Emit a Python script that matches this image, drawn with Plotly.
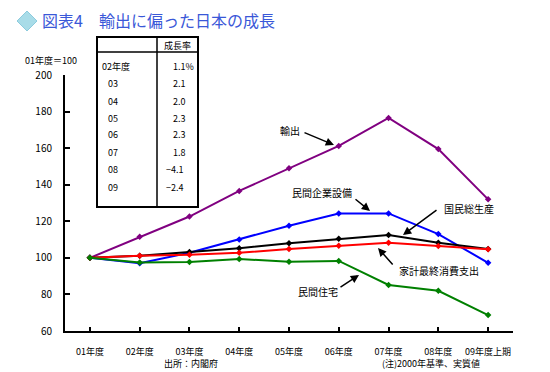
import plotly.graph_objects as go

# ---------------- data ----------------
categories = ["01年度", "02年度", "03年度", "04年度", "05年度",
              "06年度", "07年度", "08年度", "09年度上期"]
exports = [100, 111.5, 122.6, 136.6, 149.0, 161.2, 176.5, 159.5, 132.0]
capex = [100, 97.0, 102.8, 110.1, 117.6, 124.3, 124.3, 113.0, 97.3]
gnp = [100, 101.1, 103.2, 105.3, 108.0, 110.4, 112.5, 108.3, 104.8]
consumption = [100, 101.2, 101.7, 102.8, 104.8, 106.6, 108.3, 106.5, 104.7]
housing = [100, 97.5, 97.7, 99.4, 97.9, 98.3, 85.2, 82.0, 68.7]

series_names = ["輸出", "民間企業設備", "国民総生産", "家計最終消費支出", "民間住宅"]
series_values = [exports, capex, gnp, consumption, housing]
series_colors = ["#800080", "#0000FF", "#000000", "#FF0000", "#008000"]

table_header = "成長率"
table_years = ["02年度", "03", "04", "05", "06", "07", "08", "09"]
table_rates = ["1.1%", "2.1", "2.0", "2.3", "2.3", "1.8", "−4.1", "−2.4"]

y_ticks = [60, 80, 100, 120, 140, 160, 180, 200]

# ---------------- layout geometry ----------------
OFF = 8  # page body margin
W, H = 550 - OFF, 372 - OFF
# plot area in reference (window) pixels
RL, RR, RT, RB = 65, 513, 75, 331
L, R, T, B = RL - OFF, RR - OFF, RT - OFF, RB - OFF
FONT = "Noto Sans CJK JP, Noto Sans, sans-serif"


def px(x):
    # x in window pixels -> paper fraction
    return (x - RL) / (RR - RL)


def py(y):
    return (RB - y) / (RB - RT)


fig = go.Figure()
for name, vals, col in zip(series_names, series_values, series_colors):
    fig.add_trace(go.Scatter(
        x=list(range(len(categories))), y=vals, name=name, mode="lines+markers",
        line=dict(color=col, width=2),
        marker=dict(color=col, size=5, symbol="diamond"),
        showlegend=False, hoverinfo="skip"))

annotations = []
shapes = []

# title icon (diamond) and title text
dcx, dcy, dr = 27, 21, 10
shapes.append(dict(
    type="path", xref="paper", yref="paper",
    path=(f"M {px(dcx - dr)} {py(dcy)} L {px(dcx)} {py(dcy - dr)} "
          f"L {px(dcx + dr)} {py(dcy)} L {px(dcx)} {py(dcy + dr)} Z"),
    fillcolor="#A8DCE8", line=dict(color="#8CCBDD", width=1)))
annotations.append(dict(x=px(40), y=py(20), xref="paper", yref="paper",
                        text="図表4　輸出に偏った日本の成長", showarrow=False,
                        xanchor="left", yanchor="middle",
                        font=dict(size=16, color="#3A58D8", family=FONT)))

# y-axis unit label
annotations.append(dict(x=px(23), y=py(60), xref="paper", yref="paper",
                        text="01年度＝100", showarrow=False, xanchor="left",
                        yanchor="middle", font=dict(size=9, color="black", family=FONT)))

# footer
annotations.append(dict(x=px(191), y=py(363), xref="paper", yref="paper",
                        text="出所：内閣府", showarrow=False, xanchor="center",
                        yanchor="middle", font=dict(size=9, color="black", family=FONT)))
annotations.append(dict(x=px(431), y=py(363), xref="paper", yref="paper",
                        text="(注)2000年基準、実質値", showarrow=False, xanchor="center",
                        yanchor="middle", font=dict(size=9, color="black", family=FONT)))

# table
tx0, tx1, tdiv, ty0, ty1, thead = 97, 198, 157, 37, 207, 52
shapes.append(dict(type="rect", xref="paper", yref="paper",
                   x0=px(tx0), x1=px(tx1), y0=py(ty1), y1=py(ty0),
                   line=dict(color="black", width=2), fillcolor="white", layer="above"))
shapes.append(dict(type="line", xref="paper", yref="paper",
                   x0=px(tdiv), x1=px(tdiv), y0=py(ty1), y1=py(ty0),
                   line=dict(color="black", width=1.5)))
shapes.append(dict(type="line", xref="paper", yref="paper",
                   x0=px(tx0), x1=px(tx1), y0=py(thead), y1=py(thead),
                   line=dict(color="black", width=1.5)))
annotations.append(dict(x=px(177), y=py(45), xref="paper", yref="paper",
                        text=table_header, showarrow=False, xanchor="center",
                        yanchor="middle", font=dict(size=9, color="black", family=FONT)))
row_y = [66, 83, 101, 118, 134, 152, 169, 187]
for i, (yr, rt) in enumerate(zip(table_years, table_rates)):
    xl = 100 if i == 0 else 106
    annotations.append(dict(x=px(xl), y=py(row_y[i]), xref="paper", yref="paper",
                            text=yr, showarrow=False, xanchor="left", yanchor="middle",
                            font=dict(size=9, color="black", family=FONT)))
    xs = 164 if rt.startswith("−") else 171
    annotations.append(dict(x=px(xs), y=py(row_y[i]), xref="paper", yref="paper",
                            text=rt, showarrow=False, xanchor="left", yanchor="middle",
                            font=dict(size=9, color="black", family=FONT)))

# series labels with arrows: (text, text_x, text_y, tail_x, tail_y, head_x, head_y)
labels = [
    ("輸出", 278, 130, 303, 132, 334, 145),
    ("民間企業設備", 290, 192, 354, 198, 370, 211),
    ("国民総生産", 442, 208, 438, 209, 403, 235),
    ("家計最終消費支出", 397, 270, 394, 266, 378, 248),
    ("民間住宅", 296, 291, 339, 288, 359, 275),
]
for text, tx, ty, ax, ay, hx, hy in labels:
    annotations.append(dict(x=px(tx), y=py(ty), xref="paper", yref="paper",
                            text=text, showarrow=False, xanchor="left", yanchor="middle",
                            font=dict(size=10, color="black", family=FONT)))
    annotations.append(dict(x=px(hx), y=py(hy), xref="paper", yref="paper",
                            text="", showarrow=True, ax=ax - hx, ay=ay - hy,
                            arrowhead=2, arrowsize=1.1, arrowwidth=1.5,
                            arrowcolor="black"))

fig.update_layout(
    width=W, height=H,
    margin=dict(l=L, r=W - R, t=T, b=H - B, pad=0),
    paper_bgcolor="white", plot_bgcolor="white",
    font=dict(family=FONT, size=9, color="black"),
    annotations=annotations, shapes=shapes,
    xaxis=dict(
        tickmode="array", tickvals=list(range(len(categories))), ticktext=categories,
        range=[-0.5, len(categories) - 0.5], showgrid=False, zeroline=False,
        showline=True, linecolor="black", linewidth=2,
        ticks="inside", ticklen=4, tickwidth=2, tickcolor="black",
        tickfont=dict(size=9, family=FONT), ticklabelstandoff=11,
    ),
    yaxis=dict(
        range=[60, 200], tickvals=y_ticks, showgrid=False, zeroline=False,
        showline=True, linecolor="black", linewidth=2,
        ticks="inside", ticklen=5, tickwidth=1.5, tickcolor="black",
        tickfont=dict(size=10, family=FONT), ticklabelstandoff=9,
    ),
)

fig.update_xaxes(tickson="boundaries")

fig.write_html("out.html")
